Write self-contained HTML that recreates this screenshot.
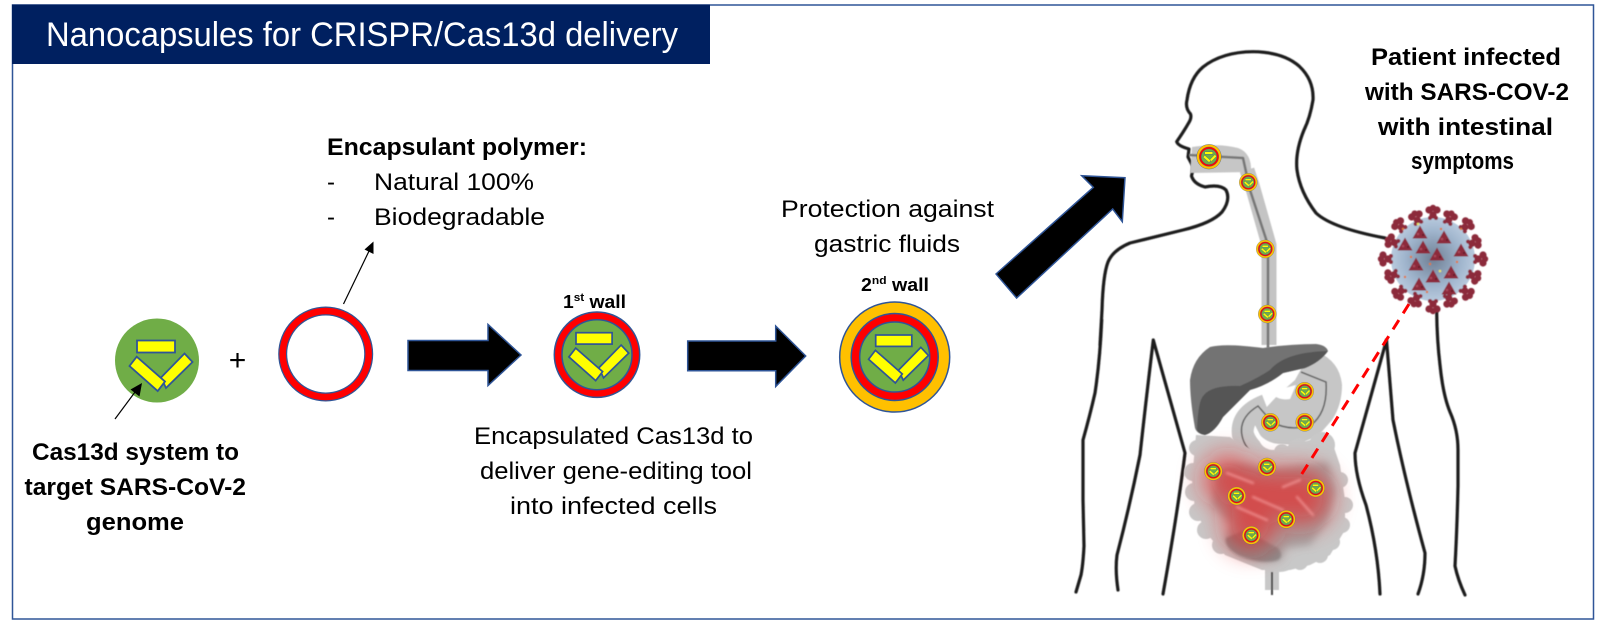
<!DOCTYPE html>
<html><head><meta charset="utf-8"><style>
html,body{margin:0;padding:0;background:#fff}svg{display:block}
text{font-family:"Liberation Sans",sans-serif;fill:#000}
.b{font-weight:bold}
</style></head><body>
<svg width="1602" height="622" viewBox="0 0 1602 622" xmlns="http://www.w3.org/2000/svg">
<defs>
<filter id="bl1"><feGaussianBlur stdDeviation="0.6"/></filter>
<filter id="bl2" x="-60%" y="-60%" width="220%" height="220%"><feGaussianBlur stdDeviation="13"/></filter>
<filter id="bl3" x="-20%" y="-20%" width="140%" height="140%"><feGaussianBlur stdDeviation="4"/></filter>
<filter id="bl4" x="-20%" y="-20%" width="140%" height="140%"><feGaussianBlur stdDeviation="1.2"/></filter>
<radialGradient id="vb" cx="50%" cy="50%" r="50%"><stop offset="0" stop-color="#6f7f94"/><stop offset="0.65" stop-color="#9fb4cc"/><stop offset="1" stop-color="#b8cade"/></radialGradient>
<g id="cargo" stroke="#2f5597" stroke-width="1.8" fill="#ff0">
<polygon points="27.5,-7 35.5,1.5 9,27.5 4,17"/>
<polygon points="-27.5,5.5 -20.3,-3.8 8,21 0.7,30.5"/>
<rect x="-20" y="-20" width="38" height="12"/>
</g>
<g id="cap">
<circle r="55" fill="#ffc000" stroke="#2f5597" stroke-width="1.5"/>
<circle r="39" fill="#70ad47" stroke="#ff0000" stroke-width="8"/>
<circle r="43.5" fill="none" stroke="#2f5597" stroke-width="1.5"/>
<circle r="35" fill="none" stroke="#2f5597" stroke-width="1.5"/>
<use href="#cargo" transform="translate(0,-3) scale(.95)"/>
</g>
<g id="s" fill="#8c2a3b"><circle cx="-4" cy="-3" r="3.6"/><circle cx="4" cy="-3" r="3.6"/><circle cx="0" cy="-5" r="3.2"/><circle cx="0" cy="2" r="3.6"/><circle cx="-3" cy="5" r="2"/><circle cx="3" cy="5" r="2"/></g>
<g id="t"><polygon points="0,-7.5 7.5,5.5 -7.5,5.5" fill="#8c2a3b"/><circle cx="-2" cy="1" r="1.3" fill="#a8485a"/><circle cx="3" cy="2" r="1" fill="#5f1a28"/></g>
</defs>

<rect x="12.5" y="5" width="1581" height="614" fill="#fff" stroke="#2f5597" stroke-width="1.5"/>
<rect x="12" y="4.5" width="698" height="59.5" fill="#002060"/>
<text x="46" y="46" font-size="34" textLength="632" lengthAdjust="spacingAndGlyphs" style="fill:#fff">Nanocapsules for CRISPR/Cas13d delivery</text>

<!-- cas13d -->
<circle cx="157" cy="360.5" r="42" fill="#70ad47"/>
<use href="#cargo" transform="translate(157,360.5)"/>
<line x1="115" y1="419" x2="138" y2="388" stroke="#000" stroke-width="1.2"/>
<polygon points="142,383 139.5,396.5 130.5,389.5" fill="#000"/>
<text x="237.5" y="370" font-size="30" text-anchor="middle">+</text>

<circle cx="325.7" cy="354" r="43" fill="#fff" stroke="#2f5597" stroke-width="9"/>
<circle cx="325.7" cy="354" r="43" fill="none" stroke="#f00" stroke-width="6.5"/>
<line x1="343.5" y1="304" x2="370" y2="249" stroke="#000" stroke-width="1.2"/>
<polygon points="373.5,241.5 373.5,254 364.5,249.5" fill="#000"/>

<polygon points="408,340.5 488,340.5 488,324.5 521,355 488,385.5 488,370.5 408,370.5" fill="#000" stroke="#2f5597" stroke-width="1.5"/>
<polygon points="687.7,341 775.7,341 775.7,326 805.7,356 775.7,386.5 775.7,370.7 687.7,370.7" fill="#000" stroke="#2f5597" stroke-width="1.5"/>

<!-- capsule 1 -->
<g transform="translate(597,354.7)">
<circle r="38.8" fill="#70ad47" stroke="#f00" stroke-width="8"/>
<circle r="42.7" fill="none" stroke="#2f5597" stroke-width="1.5"/>
<circle r="35" fill="none" stroke="#2f5597" stroke-width="1.5"/>
<use href="#cargo" transform="translate(-2,-3) scale(.95)"/>
</g>
<use href="#cap" transform="translate(894.7,357)"/>

<polygon points="996,274 1093.3,187.3 1081.7,175.7 1125,177.7 1122.3,221.7 1112.7,209 1016.6,298" fill="#000" stroke="#2f5597" stroke-width="1.5"/>

<!-- text -->
<g font-size="24">
<text class="b" x="327" y="155" textLength="260" lengthAdjust="spacingAndGlyphs">Encapsulant polymer:</text>
<text x="327" y="190">-</text><text x="374" y="190" textLength="160" lengthAdjust="spacingAndGlyphs">Natural 100%</text>
<text x="327" y="225">-</text><text x="374" y="225" textLength="171" lengthAdjust="spacingAndGlyphs">Biodegradable</text>
<text x="781" y="217" textLength="213" lengthAdjust="spacingAndGlyphs">Protection against</text>
<text x="814" y="252" textLength="146" lengthAdjust="spacingAndGlyphs">gastric fluids</text>
<text x="474" y="444" textLength="279" lengthAdjust="spacingAndGlyphs">Encapsulated Cas13d to</text>
<text x="480" y="479" textLength="272" lengthAdjust="spacingAndGlyphs">deliver gene-editing tool</text>
<text x="510" y="514" textLength="207" lengthAdjust="spacingAndGlyphs">into infected cells</text>
<text class="b" x="32" y="460" textLength="207" lengthAdjust="spacingAndGlyphs">Cas13d system to</text>
<text class="b" x="24.5" y="495" textLength="221.5" lengthAdjust="spacingAndGlyphs">target SARS-CoV-2</text>
<text class="b" x="86" y="530" textLength="98" lengthAdjust="spacingAndGlyphs">genome</text>
<text class="b" x="1371" y="65" textLength="190" lengthAdjust="spacingAndGlyphs">Patient infected</text>
<text class="b" x="1365" y="100" textLength="204" lengthAdjust="spacingAndGlyphs">with SARS-COV-2</text>
<text class="b" x="1378" y="135" textLength="175" lengthAdjust="spacingAndGlyphs">with intestinal</text>
<text class="b" x="1411" y="169" textLength="103" lengthAdjust="spacingAndGlyphs">symptoms</text>
</g>
<text class="b" x="563" y="308" font-size="18" textLength="63" lengthAdjust="spacingAndGlyphs">1<tspan font-size="11" dy="-7">st</tspan><tspan dy="7"> wall</tspan></text>
<text class="b" x="861" y="291" font-size="18" textLength="68" lengthAdjust="spacingAndGlyphs">2<tspan font-size="11" dy="-7">nd</tspan><tspan dy="7"> wall</tspan></text>

<!-- body -->
<g fill="none" stroke="#1c1c1c" stroke-width="3.2" stroke-linecap="round" stroke-linejoin="round" filter="url(#bl1)">
<path d="M1100,345 L1102,310 Q1103,275 1108,262 Q1113,250 1130,243 L1183,230 Q1212,223 1222,212 Q1231,200 1226,190 Q1220,184 1205,187 Q1194,184 1191.5,176 Q1193,170 1192.7,166 L1188,157 L1189,149 Q1178,146 1176.7,141.7 Q1184,131 1188,124 Q1192,118 1190.5,114 Q1185,108 1187,100 Q1190,78 1203,67 Q1222,52 1253,51.7 Q1283,52 1299,66 Q1314,80 1313,100 Q1310,118 1304,130 Q1295,152 1297,170 Q1300,192 1316,213 Q1332,228 1385,238"/>
<path d="M1436.7,312 Q1437,340 1440,365 Q1443,395 1450,412 Q1458,430 1458,450 L1458,486 Q1457,530 1455,566 Q1458,580 1465,595"/>
<path d="M1101.7,320 Q1100,360 1095,393 Q1090,415 1083,440 L1083,500 L1084,546 Q1083,565 1081,575 L1076,592"/>
<path d="M1118,590 Q1115,570 1117,555 Q1130,505 1140,455 Q1146,400 1153.3,340 L1185,453 Q1178,510 1163,594"/>
<path d="M1380,594 Q1378,550 1366,505 Q1355,475 1355,453 L1386.5,340 L1393,420 Q1405,480 1425,553 Q1425,575 1418,594"/>
</g>

<!-- esophagus -->
<g fill="none" stroke-linejoin="round" filter="url(#bl1)">
<path d="M1192,147 Q1220,143 1238,148 Q1252,153 1251,172 L1190,173 Z" fill="#c6c6c6"/>
<path d="M1247,170 L1252,185 L1269,245 L1269,345" stroke="#c4c4c4" stroke-width="15"/>
<path d="M1189,155 L1243,158 L1250,190 L1268,245 L1268,348" stroke="#777" stroke-width="2.6"/>
<path d="M1272,590 L1272,545" stroke="#c8c8c8" stroke-width="14"/>
<path d="M1272,595 L1272,572" stroke="#444" stroke-width="2"/>
</g>

<!-- stomach -->
<g filter="url(#bl1)">
<path d="M1318,352 Q1340,362 1342,385 Q1342,405 1332,420 L1318,436 L1296,445 L1264,443 L1255,425 L1262,412 L1278,395 L1295,380 L1305,362 Z" fill="#c6c6c6"/>
<path d="M1266,405 Q1240,415 1243,435 Q1250,455 1275,462" fill="none" stroke="#c6c6c6" stroke-width="22"/>
<path d="M1270,392 Q1285,388 1296,385 L1290,399 Q1278,401 1270,392Z" fill="#fff"/>
<path d="M1258,432 Q1265,445 1290,445 L1272,450 Q1258,448 1258,432Z" fill="#fff"/>
<path d="M1301,372 L1326,382 Q1328,412 1311,425 Q1290,432 1272,422 L1258,406 Q1235,420 1244,442 Q1250,455 1266,462" fill="none" stroke="#666" stroke-width="1.6"/>
</g>

<!-- intestine -->
<g filter="url(#bl1)" fill="#c8c8c8">
<path d="M1196,435 L1230,437 Q1262,460 1280,448 L1310,440 L1330,436 L1340,465 L1345,500 L1345,530 L1330,555 L1310,565 L1290,570 L1262,570 L1225,555 L1208,535 L1195,510 L1192,480 Z"/>
<circle cx="1197" cy="448" r="8"/><circle cx="1193" cy="472" r="9"/><circle cx="1194" cy="492" r="9"/><circle cx="1198" cy="512" r="9"/><circle cx="1206" cy="530" r="9"/><circle cx="1221" cy="545" r="9"/><circle cx="1340" cy="480" r="8"/><circle cx="1345" cy="505" r="8"/><circle cx="1342" cy="525" r="8"/><circle cx="1332" cy="542" r="8"/><circle cx="1320" cy="555" r="8"/><circle cx="1300" cy="562" r="8"/><circle cx="1298" cy="448" r="10"/><circle cx="1322" cy="445" r="13"/><circle cx="1282" cy="452" r="8"/>
<path d="M1268,565 L1295,565 Q1290,572 1278,572 Z"/>
</g>
<g filter="url(#bl3)">
<path d="M1215,470 Q1240,458 1265,470 L1300,465 L1328,462 L1336,490 L1328,520 L1310,545 L1285,548 L1282,558 L1280,560 Q1262,565 1240,555 L1224,540 L1232,525 L1212,505 Z" fill="#a4a4a4"/>
</g>
<path d="M1226,538 Q1224,548 1240,556 Q1262,565 1278,560 Q1284,556 1278,548 L1245,530 Z" fill="#8c8c8c" filter="url(#bl4)"/>
<g filter="url(#bl2)" fill="#f01818" opacity=".62">
<circle cx="1250" cy="525" r="27"/><circle cx="1302" cy="497" r="30"/><circle cx="1228" cy="480" r="26"/><circle cx="1268" cy="490" r="24"/>
</g>
<g fill="none" stroke="#f59a9a" stroke-width="2.4" stroke-linecap="round" filter="url(#bl4)" opacity=".75">
<path d="M1227,473 L1253,483"/><path d="M1237,507 L1267,520"/><path d="M1283,487 L1300,480"/><path d="M1297,497 L1313,515"/><path d="M1253,497 L1283,510"/>
</g>

<!-- liver -->
<g filter="url(#bl1)">
<path d="M1190,380 Q1193,358 1210,347 Q1225,343 1263,348 Q1290,344 1316,344 Q1326,345 1328,351 Q1320,362 1305,368 L1283,373 Q1268,385 1250,390 L1223,417 Q1215,432 1205,435 Q1197,434 1195,428 Q1190,400 1190,380Z" fill="#737373"/>
<path d="M1197,430 Q1198,400 1204,395 Q1212,385 1240,386 Q1258,378 1270,370 Q1285,352 1328,351 Q1320,362 1305,368 L1283,373 Q1268,385 1250,390 L1223,417 Q1215,432 1205,435 Q1199,434 1197,430Z" fill="#545454"/>
</g>

<!-- dashed -->
<line x1="1409" y1="304" x2="1298" y2="480" stroke="#f00" stroke-width="3" stroke-dasharray="11 8"/>

<!-- virus -->
<g transform="translate(1433,259)" filter="url(#bl1)">
<circle r="42" fill="url(#vb)"/>
<use href="#s" transform="rotate(0) translate(0,-46)"/>
<use href="#s" transform="rotate(22) translate(0,-44)"/>
<use href="#s" transform="rotate(45) translate(0,-47)"/>
<use href="#s" transform="rotate(68) translate(0,-44)"/>
<use href="#s" transform="rotate(90) translate(0,-47)"/>
<use href="#s" transform="rotate(113) translate(0,-44)"/>
<use href="#s" transform="rotate(135) translate(0,-47)"/>
<use href="#s" transform="rotate(158) translate(0,-44)"/>
<use href="#s" transform="rotate(180) translate(0,-47)"/>
<use href="#s" transform="rotate(203) translate(0,-44)"/>
<use href="#s" transform="rotate(225) translate(0,-47)"/>
<use href="#s" transform="rotate(248) translate(0,-44)"/>
<use href="#s" transform="rotate(270) translate(0,-47)"/>
<use href="#s" transform="rotate(293) translate(0,-44)"/>
<use href="#s" transform="rotate(315) translate(0,-47)"/>
<use href="#s" transform="rotate(338) translate(0,-44)"/>
<use href="#t" transform="translate(-13,-26)"/>
<use href="#t" transform="translate(11,-21)"/>
<use href="#t" transform="translate(-10,-11)"/>
<use href="#t" transform="translate(4,-4)"/>
<use href="#t" transform="translate(-17,6)"/>
<use href="#t" transform="translate(0,18)"/>
<use href="#t" transform="translate(18,14)"/>
<use href="#t" transform="translate(-14,26)"/>
<use href="#t" transform="translate(16,30)"/>
<use href="#t" transform="translate(-28,-14)"/>
<use href="#t" transform="translate(28,-8)"/>
<g fill="#e0763a"><circle cx="-22" cy="-2" r="1.2"/><circle cx="8" cy="-30" r="1.2"/><circle cx="-3" cy="5" r="1.2"/><circle cx="24" cy="3" r="1.2"/><circle cx="-28" cy="18" r="1.2"/><circle cx="-6" cy="33" r="1.2"/><circle cx="-30" cy="-30" r="1.2"/><circle cx="28" cy="-30" r="1.2"/></g>
<circle cx="-15" cy="-35" r="1.3" fill="#e8e36a"/><circle cx="7" cy="12" r="1.3" fill="#e8e36a"/>
</g>

<!-- small capsules -->
<use href="#cap" transform="translate(1209,156.7) scale(.225)"/>
<use href="#cap" transform="translate(1248.3,182.3) scale(.165)"/>
<use href="#cap" transform="translate(1265.3,249) scale(.165)"/>
<use href="#cap" transform="translate(1267.3,314) scale(.165)"/>
<use href="#cap" transform="translate(1304.7,391.3) scale(.165)"/>
<use href="#cap" transform="translate(1304.7,422.3) scale(.165)"/>
<use href="#cap" transform="translate(1270.3,422.3) scale(.165)"/>
<use href="#cap" transform="translate(1267,467) scale(.165)"/>
<use href="#cap" transform="translate(1213.3,471.3) scale(.165)"/>
<use href="#cap" transform="translate(1236.7,496) scale(.165)"/>
<use href="#cap" transform="translate(1315.7,488) scale(.165)"/>
<use href="#cap" transform="translate(1286.3,519.3) scale(.165)"/>
<use href="#cap" transform="translate(1251.3,535.3) scale(.165)"/>
</svg>
</body></html>
